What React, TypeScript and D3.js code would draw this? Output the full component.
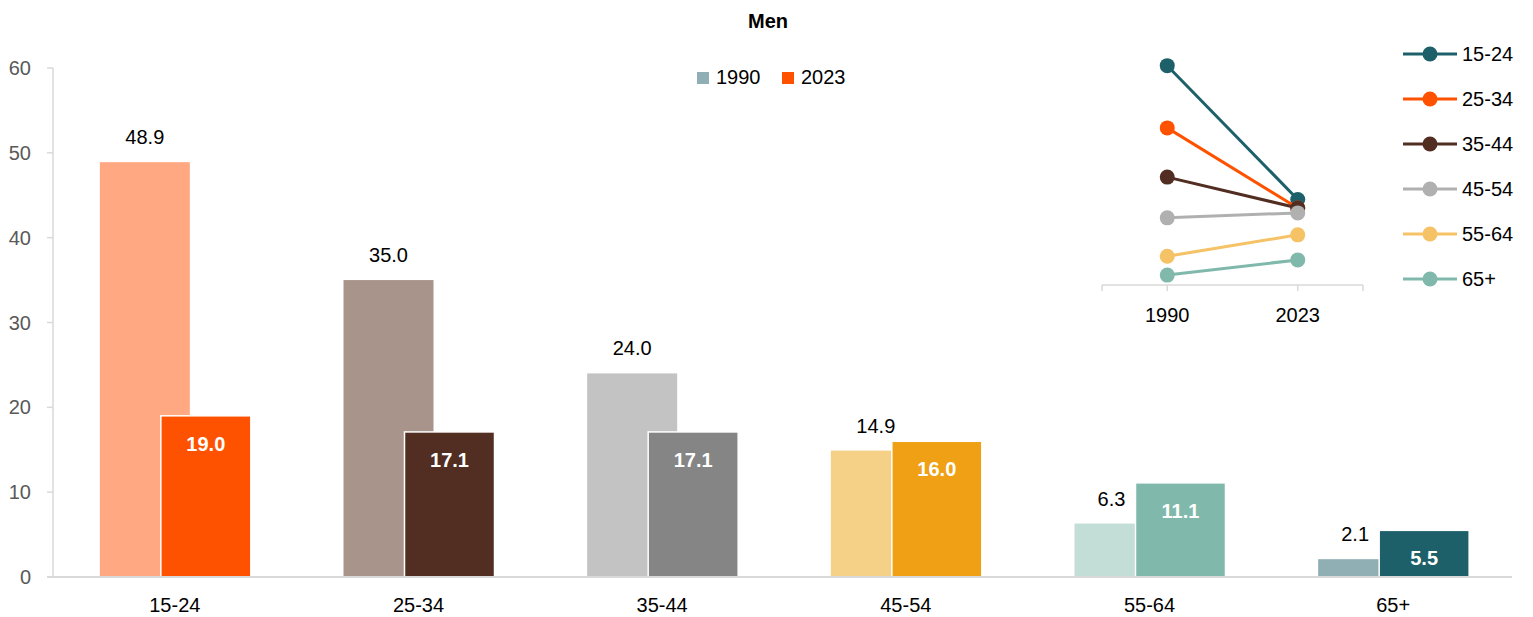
import React from "react";
import * as d3 from "d3";

const categories = ["15-24", "25-34", "35-44", "45-54", "55-64", "65+"];
const values1990 = [48.9, 35.0, 24.0, 14.9, 6.3, 2.1];
const values2023 = [19.0, 17.1, 17.1, 16.0, 11.1, 5.5];
const yTicks = [0, 10, 20, 30, 40, 50, 60];
const years = ["1990", "2023"];
const colors1990 = ["#FFA882", "#A8948B", "#C3C3C3", "#F5D087", "#C3DED7", "#8FAFB5"];
const colors2023 = ["#FF5200", "#512D22", "#858585", "#EFA015", "#80B9AB", "#1E6069"];
const lineColors = ["#1E6069", "#FF5200", "#512D22", "#B0B0B0", "#F5C266", "#80B9AB"];
const legendColors = ["#8FAFB5", "#FF5200"];

const W = 1533;
const H = 617;
const FONT = "'Liberation Sans', Arial, sans-serif";

export default function App() {
  const x = d3.scaleBand<string>().domain(categories).range([53, 1515]);
  const y = d3.scaleLinear().domain([0, 60]).range([577, 68]);
  const bw = 90;

  const ix = d3.scaleBand<string>().domain(years).range([1102, 1363]);
  const iy = d3.scaleLinear().domain([0, 60]).range([284.5, 16]);
  const line = d3
    .line<number>()
    .x((_, i) => ix(years[i])! + ix.bandwidth() / 2)
    .y((d) => iy(d));

  return (
    <svg
      width={W}
      height={H}
      style={{ position: "absolute", left: 0, top: 0, fontFamily: FONT }}
    >
      <rect width={W} height={H} fill="#fff" />
      <text x={768} y={28} textAnchor="middle" fontSize={20} fontWeight="bold" fill="#000">
        Men
      </text>

      {/* y axis */}
      <line x1={53} x2={53} y1={y(60)} y2={y(0)} stroke="#D9D9D9" strokeWidth={1.5} />
      {yTicks.map((t) => (
        <g key={t}>
          <line x1={47} x2={53} y1={y(t)} y2={y(t)} stroke="#D9D9D9" strokeWidth={1.5} />
          <text x={31} y={y(t) + 7} textAnchor="end" fontSize={20} fill="#595959">
            {t}
          </text>
        </g>
      ))}

      {/* bars */}
      {categories.map((c, i) => {
        const cx = x(c)! + x.bandwidth() / 2;
        const x1 = cx - 30 - bw / 2;
        const x2 = cx + 31 - bw / 2;
        const v1 = values1990[i];
        const v2 = values2023[i];
        const labelY1 = y(v1) - 18;
        const overlaps = v2 > v1 && y(v2) < labelY1 + 2;
        const lx1 = x1 + bw / 2 - (overlaps ? 8 : 0);
        return (
          <g key={c}>
            <rect x={x1} y={y(v1)} width={bw} height={y(0) - y(v1)} fill={colors1990[i]} />
            <rect
              x={x2}
              y={y(v2)}
              width={bw}
              height={y(0) - y(v2)}
              fill={colors2023[i]}
              stroke="#fff"
              strokeWidth={1.5}
            />
            <text x={lx1} y={labelY1} textAnchor="middle" fontSize={20} fill="#000">
              {v1.toFixed(1)}
            </text>
            <text
              x={x2 + bw / 2}
              y={y(v2) + 35}
              textAnchor="middle"
              fontSize={20}
              fontWeight="bold"
              fill="#fff"
            >
              {v2.toFixed(1)}
            </text>
            <text x={cx} y={612} textAnchor="middle" fontSize={20} fill="#000">
              {c}
            </text>
          </g>
        );
      })}

      {/* x axis */}
      <line x1={47} x2={1512} y1={577} y2={577} stroke="#D9D9D9" strokeWidth={2} />

      {/* main legend */}
      {years.map((yr, i) => (
        <g key={yr} transform={`translate(${697 + i * 85},0)`}>
          <rect x={0} y={72} width={12} height={12} fill={legendColors[i]} />
          <text x={19} y={84} fontSize={20} fill="#000">
            {yr}
          </text>
        </g>
      ))}

      {/* inset */}
      <line x1={1102} x2={1363} y1={285} y2={285} stroke="#D9D9D9" strokeWidth={1.5} />
      {[1102, ...years.map((yr) => ix(yr)! + ix.bandwidth() / 2), 1363].map((tx, i) => (
        <line key={i} x1={tx} x2={tx} y1={285} y2={291} stroke="#D9D9D9" strokeWidth={1.5} />
      ))}
      {years.map((yr) => (
        <text
          key={yr}
          x={ix(yr)! + ix.bandwidth() / 2}
          y={322}
          textAnchor="middle"
          fontSize={20}
          fill="#000"
        >
          {yr}
        </text>
      ))}
      {categories.map((c, i) => {
        const pts = [values1990[i], values2023[i]];
        return (
          <g key={c}>
            <path d={line(pts)!} fill="none" stroke={lineColors[i]} strokeWidth={3} />
            {pts.map((v, j) => (
              <circle
                key={j}
                cx={ix(years[j])! + ix.bandwidth() / 2}
                cy={iy(v)}
                r={7.5}
                fill={lineColors[i]}
              />
            ))}
          </g>
        );
      })}

      {/* inset legend */}
      {categories.map((c, i) => {
        const ly = 54 + i * 45;
        return (
          <g key={c}>
            <line x1={1403} x2={1457} y1={ly} y2={ly} stroke={lineColors[i]} strokeWidth={3} />
            <circle cx={1430} cy={ly} r={7.5} fill={lineColors[i]} />
            <text x={1462} y={ly + 7} fontSize={20} fill="#000">
              {c}
            </text>
          </g>
        );
      })}
    </svg>
  );
}
